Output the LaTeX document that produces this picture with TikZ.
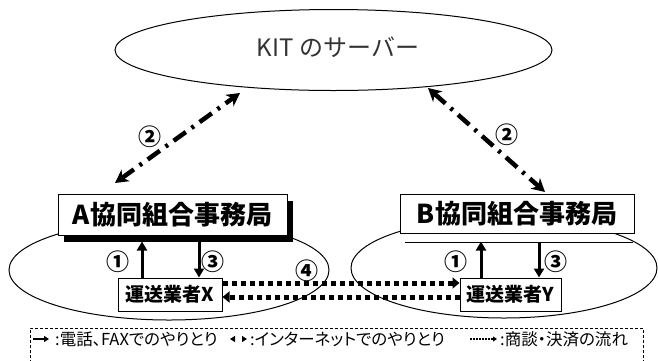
\documentclass[tikz,border=0pt]{standalone}
\usepackage{fontspec}
\setmainfont{Noto Sans CJK JP}
\newfontfamily\jp{Noto Sans CJK JP}
\newfontfamily\jpp[RawFeature=+palt]{Noto Sans CJK JP}
\usetikzlibrary{arrows.meta,shapes.geometric,calc,shadows}
\newcommand{\fs}[1]{\fontsize{#1}{#1}\selectfont}
\tikzset{
  ring/.style={ellipse,draw,line width=1pt,inner sep=0pt},
  office/.style={draw,line width=1pt,fill=white,inner sep=0pt,font=\jp\bfseries\fs{26}},
  carrier/.style={draw,line width=1pt,fill=white,inner sep=0pt,font=\jp\bfseries\fs{19}},
  numlab/.style={font=\jp\bfseries\fs{23},inner sep=0pt},
  phone/.style={line width=3pt,-{Triangle[length=9pt,width=10pt]}},
  net/.style={line width=4.5pt,dash pattern=on 15pt off 7pt on 3pt off 7pt,
     {Stealth[length=13pt,width=14pt,inset=4pt]}-{Stealth[length=13pt,width=14pt,inset=4pt]}},
  deal/.style={line width=5pt,dash pattern=on 5pt off 4pt,-{Triangle[length=7pt,width=11pt]}},
  legtext/.style={anchor=west,inner sep=0pt,font=\jpp\fs{16.5}}
}
\begin{document}
\begin{tikzpicture}[x=1pt,y=-1pt]
\useasboundingbox[fill=white] (0,0) rectangle (658,360);
% ellipses
\node[ring,minimum width=437pt,minimum height=81pt] (srv) at (333.5,50) {};
\node[font=\jp\fs{24},text=black!80,inner sep=0pt] (srvt) at (338,47) {KIT のサーバー};
\node[ring,minimum width=320pt,minimum height=100pt] (ellA) at (169,270) {};
\node[ring,minimum width=306pt,minimum height=100pt] (ellB) at (504,268) {};
% offices
\node[office,minimum width=229pt,minimum height=41pt,
      drop shadow={shadow xshift=6pt,shadow yshift=-7pt,fill=black,opacity=1}] (boxA) at (172.5,214.5) {A協同組合事務局};
\node[office,minimum width=234pt,minimum height=39pt] (boxB) at (517,213.5) {B協同組合事務局};
\coordinate (bl1) at ($(boxB.south west)+(5,9)$);
\coordinate (bl2) at ($(boxB.south east)+(-2,9)$);
\draw[line width=1pt] (bl1) -- (bl2);
% carriers
\node[carrier,minimum width=104pt,minimum height=33pt] (boxX) at (170,294.5) {運送業者X};
\node[carrier,minimum width=101pt,minimum height=33pt] (boxY) at (510.5,294.5) {運送業者Y};
% phone arrows
\draw[phone] ($(boxX.north)+(-28,0)$) -- ($(boxX.north)+(-28,-36)$);
\draw[phone] ($(boxX.north)+(29,-36)$) -- ($(boxX.north)+(29,0)$);
\draw[phone] ($(boxY.north)+(-29.5,0)$) -- ($(boxY.north)+(-29.5,-36)$);
\draw[phone] ($(boxY.north)+(28.5,-36)$) -- ($(boxY.north)+(28.5,0)$);
\node[numlab] (n1a) at (118,262) {①};
\node[numlab] (n3a) at (213,262) {③};
\node[numlab] (n1b) at (456,262) {①};
\node[numlab] (n3b) at (556,262) {③};
% internet arrows
\coordinate (la) at (115,183);
\coordinate (lb) at (240,93);
\coordinate (ra) at (428,88);
\coordinate (rb) at (545,192);
\draw[net] (la) -- (lb);
\draw[net] (ra) -- (rb);
\node[numlab] (n2a) at (150,137) {②};
\node[numlab] (n2b) at (507,135) {②};
% deal arrows
\draw[deal] ([yshift=11.5pt]boxX.east) -- ([yshift=11.5pt]boxY.west);
\draw[deal] ([yshift=-2.5pt]boxY.west) -- ([yshift=-2.5pt]boxX.east);
\node[numlab] (n4) at (307,271) {④};
% legend
\coordinate (lg1) at (30,363);
\coordinate (lg2) at (30,328);
\coordinate (lg3) at (643,328);
\coordinate (lg4) at (643,363);
\draw[line width=0.8pt,dash pattern=on 3pt off 2pt] (lg1) -- (lg2) -- (lg3) -- (lg4);
\coordinate (s1a) at (33,339);
\coordinate (s1b) at (49,339);
\draw[line width=1.8pt,-{Triangle[length=5pt,width=6pt]}] (s1a) -- (s1b);
\node[legtext] (t1) at (55,339) {:電話、FAXでのやりとり};
\coordinate (s2a) at (230,339);
\coordinate (s2b) at (247,339);
\draw[line width=1pt,dash pattern=on 0pt off 7pt on 2pt off 20pt,{Triangle[length=5pt,width=6pt]}-{Triangle[length=5pt,width=6pt]}] (s2a) -- (s2b);
\node[legtext] (t2) at (250,339) {:インターネットでのやりとり};
\coordinate (s3a) at (470,339);
\coordinate (s3b) at (497,339);
\draw[line width=1.2pt,dash pattern=on 1.5pt off 1.5pt,-{Triangle[length=4pt,width=5pt]}] (s3a) -- (s3b);
\node[legtext] (t3) at (500,339) {:商談・決済の流れ};
\end{tikzpicture}
\end{document}
